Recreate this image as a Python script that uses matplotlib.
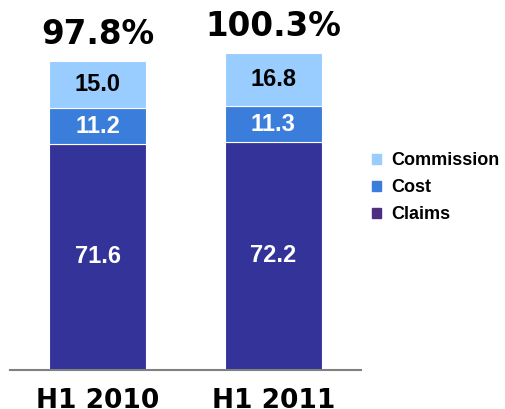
import matplotlib.pyplot as plt
from matplotlib.patches import Patch

# data
periods = ["H1 2010", "H1 2011"]
claims = [71.6, 72.2]
cost = [11.2, 11.3]
commission = [15.0, 16.8]
totals = ["97.8%", "100.3%"]

col_claims = "#333399"
col_cost = "#3B7DDB"
col_comm = "#99CCFF"
col_claims_legend = "#4F2D80"

fig = plt.figure(figsize=(5.06, 4.09), dpi=100)
W, H = 506, 409
ax = fig.add_axes([10 / W, 39 / H, 351 / W, 370 / H])

x = list(range(len(periods)))
bw = 0.55
ax.bar(x, claims, bw, color=col_claims, edgecolor="white", linewidth=0.8)
bottom2 = claims
ax.bar(x, cost, bw, bottom=bottom2, color=col_cost, edgecolor="white", linewidth=0.8)
bottom3 = [a + b for a, b in zip(claims, cost)]
ax.bar(x, commission, bw, bottom=bottom3, color=col_comm, edgecolor="white", linewidth=0.8)

inner = dict(ha="center", va="center", fontsize=17, fontweight="bold",
             family="Liberation Sans")
for i in x:
    ax.text(i, claims[i] / 2, f"{claims[i]:.1f}", color="white", **inner)
    ax.text(i, claims[i] + cost[i] / 2, f"{cost[i]:.1f}", color="white", **inner)
    ax.text(i, bottom3[i] + commission[i] / 2, f"{commission[i]:.1f}",
            color="black", **inner)
    top = bottom3[i] + commission[i]
    ax.annotate(totals[i], (i, top), xytext=(0, 12.5), textcoords="offset points",
                ha="center", va="baseline", fontsize=23.5, fontweight="bold",
                family="DejaVu Sans")

ax.set_xlim(-0.5, 1.5)
ax.set_ylim(0, 117.1)
ax.set_yticks([])
ax.set_xticks(x)
ax.set_xticklabels(periods, fontsize=19, fontweight="bold", family="DejaVu Sans")
ax.tick_params(axis="x", length=0, pad=13)
for s in ["top", "right", "left"]:
    ax.spines[s].set_visible(False)
ax.spines["bottom"].set_color("#808080")
ax.spines["bottom"].set_linewidth(1.5)

handles = [Patch(color=col_comm, label="Commission"),
           Patch(color=col_cost, label="Cost"),
           Patch(color=col_claims_legend, label="Claims")]
fig.legend(handles=handles, loc="upper left", bbox_to_anchor=(356 / W, 1 - 136 / H),
           frameon=False, handlelength=0.5, handleheight=0.5, handletextpad=0.55,
           labelspacing=0.55, prop=dict(family="Liberation Sans", weight="bold", size=13))

fig.savefig("out.png", dpi=100)
